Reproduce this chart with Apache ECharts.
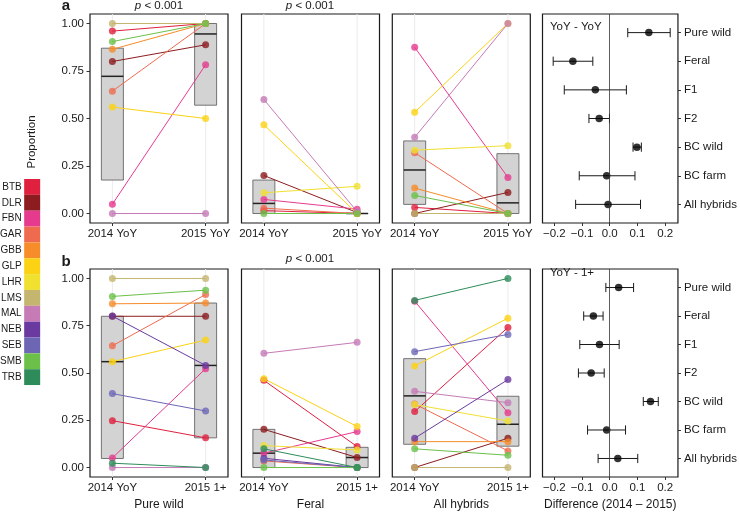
<!DOCTYPE html>
<html><head><meta charset="utf-8">
<script src="https://cdn.jsdelivr.net/npm/echarts@6/dist/echarts.min.js"></script>
<style>html,body{margin:0;padding:0;background:#fff}#c{width:740px;height:512px}</style>
</head><body><div id="c"></div>
<script>
// ---------- DATA ----------
const populations = ['BTB','DLR','FBN','GAR','GBB','GLP','LHR','LMS','MAL','NEB','SEB','SMB','TRB'];
const popColors = ['#e0203f','#8c1c1f','#e63a8f','#ef6b50','#f68c2a','#fcd214','#f0e030','#c4b56f','#c67ab6','#6a3aa0','#6d66b5','#6cc04a','#2d8c5a'];

// Row a: 2014 YoY vs 2015 YoY           BTB   DLR   FBN    GAR   GBB   GLP   LHR   LMS   MAL   NEB   SEB   SMB   TRB
const pureWildA_2014 = [0.96, 0.80, 0.049, 0.644,0.864,0.56, null, 1.00, 0.00, null, null, 0.905,null];
const pureWildA_2015 = [1.00, 0.888,0.783, 1.00, 1.00, 0.50, null, 1.00, 0.00, null, null, 1.00, null];
const feralA_2014    = [0.015,0.20, 0.074, 0.028,null, 0.467,0.109,null, 0.60, null, null, 0.00, null];
const feralA_2015    = [0.00, 0.005,0.023, 0.00, null, 0.00, 0.143,null, 0.01, null, null, 0.00, null];
const hybridsA_2014  = [0.032,0.00, 0.875, 0.32, 0.134,0.533,0.333,0.00, 0.401,null, null, 0.095,null];
const hybridsA_2015  = [0.00, 0.111,0.19,  0.00, 0.00, 1.00, 0.357,0.00, 1.00, null, null, 0.00, null];
// Row b: 2014 YoY vs 2015 1+
const pureWildB_2014 = [0.248,0.80, 0.051, 0.644,0.866,0.56, null, 1.00, 0.00, 0.801,0.391,0.905,0.023];
const pureWildB_2015 = [0.157,0.80, 0.523, 0.915,0.870,0.674,null, 1.00, 0.00, 0.540,0.299,0.938,0.00];
const feralB_2014    = [0.461,0.202,0.076, 0.035,null, 0.470,0.116,null, 0.604,0.049,0.040,0.00, 0.099];
const feralB_2015    = [0.111,0.053,0.190, 0.00, null, 0.217,0.093,null, 0.662,0.00, 0.00, 0.00, 0.00];
const hybridsB_2014  = [0.296,0.00, 0.88,  0.336,0.137,0.537,0.333,0.00, 0.403,0.155,0.613,0.099,0.884];
const hybridsB_2015  = [0.741,0.155,0.29,  0.088,0.137,0.79, 0.246,0.00, 0.343,0.465,0.704,0.065,1.00];

// Boxes: [Q1, median, Q3]
const pureWildA_box2014 = [0.176, 0.722, 0.87];
const pureWildA_box2015 = [0.57, 0.945, 1.00];
const feralA_box2014    = [0.00, 0.053, 0.176];
const feralA_box2015    = [0.00, 0.00, 0.00];
const hybridsA_box2014  = [0.048, 0.229, 0.382];
const hybridsA_box2015  = [0.00, 0.056, 0.315];
const pureWildB_box2014 = [0.048, 0.56, 0.80];
const pureWildB_box2015 = [0.157, 0.54, 0.87];
const feralB_box2014    = [0.00, 0.076, 0.202];
const feralB_box2015    = [0.00, 0.053, 0.107];
const hybridsB_box2014  = [0.123, 0.379, 0.576];
const hybridsB_box2015  = [0.113, 0.229, 0.377];

// Differences (2014 - 2015)
const groups = ['Pure wild','Feral','F1','F2','BC wild','BC farm','All hybrids'];
const diffA_est = [0.141,-0.133,-0.052,-0.038,0.098,-0.011,-0.006];
const diffA_lo  = [0.065,-0.204,-0.164,-0.075,0.084,-0.110,-0.123];
const diffA_hi  = [0.218,-0.061, 0.060,-0.001,0.114, 0.091, 0.111];
const diffB_est = [0.032,-0.059,-0.037,-0.067,0.147,-0.011, 0.029];
const diffB_lo  = [-0.014,-0.094,-0.108,-0.113,0.121,-0.080,-0.042];
const diffB_hi  = [0.086,-0.024, 0.034,-0.020,0.175, 0.057, 0.101];

// Tick / axis labels
const xLabelsA = ['2014 YoY','2015 YoY'];
const xLabelsB = ['2014 YoY','2015 1+'];
const yTicks = [0, 0.25, 0.5, 0.75, 1];
const diffTicks = [-0.2, -0.1, 0, 0.1, 0.2];
const bottomTitles = ['Pure wild','Feral','All hybrids','Difference (2014 \u2013 2015)'];
const pLabel = '{i|p} < 0.001';

// ---------- CHART ----------
const FF = "'Liberation Sans', Arial, sans-serif";
const TXT = '#1a1a1a';
const lefts = [90, 241.5, 392.3, 542.5];
const tops = [14, 269];
const GW = 138, GH = 209;

const grids = [];
const xAxes = [];
const yAxes = [];
const series = [];

const linePanels = [
  {row:0,col:0,a:pureWildA_2014,b:pureWildA_2015,b1:pureWildA_box2014,b2:pureWildA_box2015,lab:xLabelsA},
  {row:0,col:1,a:feralA_2014,b:feralA_2015,b1:feralA_box2014,b2:feralA_box2015,lab:xLabelsA},
  {row:0,col:2,a:hybridsA_2014,b:hybridsA_2015,b1:hybridsA_box2014,b2:hybridsA_box2015,lab:xLabelsA},
  {row:1,col:0,a:pureWildB_2014,b:pureWildB_2015,b1:pureWildB_box2014,b2:pureWildB_box2015,lab:xLabelsB},
  {row:1,col:1,a:feralB_2014,b:feralB_2015,b1:feralB_box2014,b2:feralB_box2015,lab:xLabelsB},
  {row:1,col:2,a:hybridsB_2014,b:hybridsB_2015,b1:hybridsB_box2014,b2:hybridsB_box2015,lab:xLabelsB}
];
const forestPanels = [
  {row:0,col:3,est:diffA_est,lo:diffA_lo,hi:diffA_hi},
  {row:1,col:3,est:diffB_est,lo:diffB_lo,hi:diffB_hi}
];

function addGrid(row, col) {
  grids.push({left: lefts[col], top: tops[row], width: GW, height: GH, show: true,
    borderColor: '#1a1a1a', borderWidth: 1.2, backgroundColor: '#fff', containLabel: false});
  return grids.length - 1;
}

const BOX_HALF = 0.118;
function boxRender(params, api) {
  const x = api.value(0), q1 = api.value(1), med = api.value(2), q3 = api.value(3);
  const g1 = api.coord([x, -0.05]), g2 = api.coord([x, 1.05]);
  const tl = api.coord([x - BOX_HALF, q3]), br = api.coord([x + BOX_HALF, q1]);
  const m1 = api.coord([x - BOX_HALF, med]), m2 = api.coord([x + BOX_HALF, med]);
  return {type: 'group', children: [
    {type: 'line', shape: {x1: g1[0], y1: g1[1], x2: g2[0], y2: g2[1]}, style: {stroke: '#ebebeb', lineWidth: 1}},
    {type: 'rect', shape: {x: tl[0], y: tl[1], width: br[0] - tl[0], height: br[1] - tl[1]},
      style: {fill: '#d3d3d3', stroke: '#555', lineWidth: 0.8}},
    {type: 'line', shape: {x1: m1[0], y1: m1[1], x2: m2[0], y2: m2[1]}, style: {stroke: '#222', lineWidth: 1.5}}
  ]};
}

function errRender(params, api) {
  const y = api.value(0), est = api.value(1), lo = api.value(2), hi = api.value(3);
  const a = api.coord([lo, y]), b = api.coord([hi, y]);
  const h = 4.6, st = {stroke: '#1a1a1a', lineWidth: 1};
  return {type: 'group', children: [
    {type: 'line', shape: {x1: a[0], y1: a[1], x2: b[0], y2: b[1]}, style: st},
    {type: 'line', shape: {x1: a[0], y1: a[1] - h, x2: a[0], y2: a[1] + h}, style: st},
    {type: 'line', shape: {x1: b[0], y1: b[1] - h, x2: b[0], y2: b[1] + h}, style: st}
  ]};
}

linePanels.forEach(p => {
  const gi = addGrid(p.row, p.col);
  const labs = p.lab;
  xAxes.push({gridIndex: gi, type: 'value', min: 0.76, max: 2.24,
    axisLine: {show: false, onZero: false}, splitLine: {show: false},
    axisTick: {show: true, length: 3, customValues: [1, 2], lineStyle: {color: '#333'}},
    axisLabel: {show: true, customValues: [1, 2], margin: 5, fontFamily: FF, fontSize: 11.5, color: TXT,
      formatter: v => labs[Math.round(v) - 1]},
    name: p.row === 1 ? bottomTitles[p.col] : '', nameLocation: 'middle', nameGap: 22,
    nameTextStyle: {fontFamily: FF, fontSize: 12, color: TXT}
  });
  const showY = p.col === 0;
  yAxes.push({gridIndex: gi, type: 'value', min: -0.05, max: 1.05,
    axisLine: {show: false, onZero: false}, splitLine: {show: false},
    axisTick: {show: showY, length: 3.5, customValues: yTicks, lineStyle: {color: '#333'}},
    axisLabel: {show: showY, customValues: yTicks, margin: 6, fontFamily: FF, fontSize: 11.5, color: TXT,
      formatter: v => v.toFixed(2)}
  });
  // boxes
  series.push({type: 'custom', xAxisIndex: gi, yAxisIndex: gi, z: 1, silent: true,
    renderItem: boxRender, encode: {x: 0, y: [1, 2, 3]},
    data: [[1].concat(p.b1), [2].concat(p.b2)]});
  // lines
  const pts = [];
  populations.forEach((name, i) => {
    if (p.a[i] == null || p.b[i] == null) return;
    series.push({type: 'line', name: name, xAxisIndex: gi, yAxisIndex: gi, z: 3, silent: true,
      showSymbol: false, symbol: 'none', animation: false,
      itemStyle: {color: popColors[i]}, lineStyle: {color: popColors[i], width: 1},
      emphasis: {disabled: true},
      data: [[1, p.a[i]], [2, p.b[i]]]});
    pts.push({value: [1, p.a[i]], itemStyle: {color: popColors[i]}});
    pts.push({value: [2, p.b[i]], itemStyle: {color: popColors[i]}});
  });
  series.push({type: 'scatter', name: 'pts' + gi, xAxisIndex: gi, yAxisIndex: gi, z: 4, silent: true,
    symbolSize: 7, data: pts, animation: false});
});

forestPanels.forEach(p => {
  const gi = addGrid(p.row, p.col);
  xAxes.push({gridIndex: gi, type: 'value', min: -0.2425, max: 0.246,
    axisLine: {show: false, onZero: false}, splitLine: {show: false},
    axisTick: {show: true, length: 3, customValues: diffTicks, lineStyle: {color: '#333'}},
    axisLabel: {show: true, customValues: diffTicks, margin: 5, fontFamily: FF, fontSize: 11.5, color: TXT,
      formatter: v => Math.abs(v) < 1e-9 ? '0.0' : (v < 0 ? '\u2212' : '') + Math.abs(v).toFixed(1)},
    name: p.row === 1 ? bottomTitles[3] : '', nameLocation: 'middle', nameGap: 22,
    nameTextStyle: {fontFamily: FF, fontSize: 12, color: TXT}
  });
  const yv = groups.map((g, i) => i + 1);
  yAxes.push({gridIndex: gi, type: 'value', min: 0.35, max: 7.65, inverse: true, position: 'right',
    axisLine: {show: false, onZero: false}, splitLine: {show: false},
    axisTick: {show: true, length: 3, customValues: yv, lineStyle: {color: '#333'}},
    axisLabel: {show: true, customValues: yv, margin: 6, fontFamily: FF, fontSize: 11.5, color: TXT,
      formatter: v => groups[Math.round(v) - 1]}
  });
  series.push({type: 'custom', xAxisIndex: gi, yAxisIndex: gi, z: 3, silent: true,
    renderItem: errRender, encode: {x: [1, 2, 3], y: 0},
    data: groups.map((g, i) => [i + 1, p.est[i], p.lo[i], p.hi[i]])
  });
  series.push({type: 'scatter', xAxisIndex: gi, yAxisIndex: gi, z: 4, silent: true,
    symbolSize: 7.5, itemStyle: {color: '#000'},
    data: groups.map((g, i) => [p.est[i], i + 1]),
    markLine: {silent: true, symbol: 'none', animation: false, label: {show: false},
      lineStyle: {color: '#333', width: 0.8, type: 'solid'}, data: [{xAxis: 0}]}
  });
});

function txt(text, x, y, opts) {
  return Object.assign({type: 'text', silent: true, z: 10, style: Object.assign({
    text: text, x: x, y: y, fill: TXT, fontFamily: FF, fontSize: 11.5,
    align: 'center', verticalAlign: 'middle', textAlign: 'center', textVerticalAlign: 'middle'
  }, opts || {})});
}
const richP = {i: {fontStyle: 'italic', fontFamily: FF, fontSize: 11.5, fill: TXT, color: TXT}};

const graphics = [
  txt('a', 66, 6, {fontWeight: 'bold', fontSize: 15}),
  txt('b', 66, 262, {fontWeight: 'bold', fontSize: 15}),
  txt(pLabel, 159, 6, {rich: richP}),
  txt(pLabel, 310, 6, {rich: richP}),
  txt(pLabel, 310, 259, {rich: richP}),
  txt('YoY - YoY', 550, 27, {align: 'left', textAlign: 'left'}),
  txt('YoY - 1+', 550, 273, {align: 'left', textAlign: 'left'}),
  {type: 'text', silent: true, x: 32, y: 142, rotation: Math.PI / 2,
    style: {text: 'Proportion', fill: TXT, fontFamily: FF, fontSize: 11.5, align: 'center', verticalAlign: 'middle',
      textAlign: 'center', textVerticalAlign: 'middle'}}
];

const chart = echarts.init(document.getElementById('c'), null, {renderer: 'canvas'});
chart.setOption({
  animation: false,
  backgroundColor: '#fff',
  grid: grids, xAxis: xAxes, yAxis: yAxes, series: series,
  legend: {data: populations, orient: 'vertical', left: 0, top: 179, itemGap: 0,
    itemWidth: 16, itemHeight: 15.85, icon: 'rect', align: 'right', padding: 0, selectedMode: false,
    itemStyle: {borderWidth: 0},
    formatter: name => '{t|' + name + '}',
    textStyle: {fontFamily: FF, fontSize: 10, color: TXT,
      rich: {t: {fontFamily: FF, fontSize: 10, color: TXT, padding: [0, -2.5, 0, 0]}}}},
  graphic: graphics
});
</script></body></html>
